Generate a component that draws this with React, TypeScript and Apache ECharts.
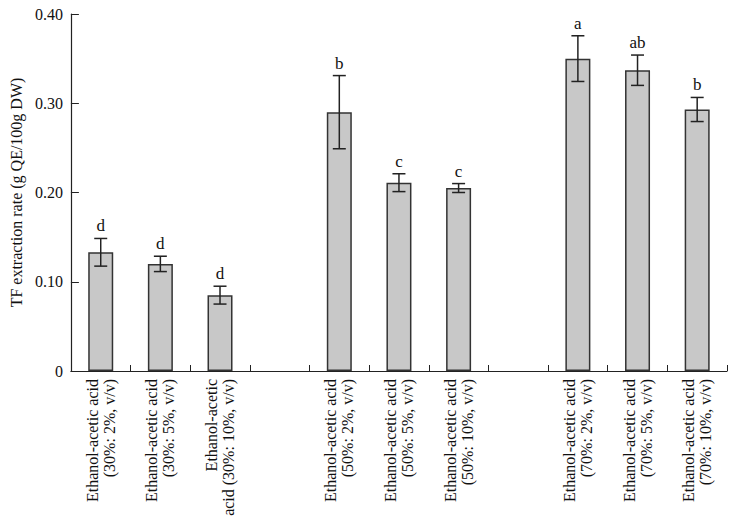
import React, { useEffect, useRef } from "react";
import * as echarts from "echarts";

const categories = [
  "Ethanol-acetic acid\n(30%: 2%, v/v)",
  "Ethanol-acetic acid\n(30%: 5%, v/v)",
  "Ethanol-acetic\nacid (30%: 10%, v/v)",
  "",
  "Ethanol-acetic acid\n(50%: 2%, v/v)",
  "Ethanol-acetic acid\n(50%: 5%, v/v)",
  "Ethanol-acetic acid\n(50%: 10%, v/v)",
  "",
  "Ethanol-acetic acid\n(70%: 2%, v/v)",
  "Ethanol-acetic acid\n(70%: 5%, v/v)",
  "Ethanol-acetic acid\n(70%: 10%, v/v)",
];

const means: (number | null)[] = [0.133, 0.12, 0.085, null, 0.29, 0.211, 0.205, null, 0.35, 0.337, 0.293];
const errors: (number | null)[] = [0.0155, 0.0086, 0.01, null, 0.041, 0.01, 0.005, null, 0.0256, 0.017, 0.0135];
const letters: string[] = ["d", "d", "d", "", "b", "c", "c", "", "a", "ab", "b"];

const yTicks = [0, 0.1, 0.2, 0.3, 0.4];

const FONT = "Liberation Serif";

export default function App() {
  const ref = useRef<HTMLDivElement>(null);
  useEffect(() => {
    if (!ref.current) return;
    const chart = echarts.init(ref.current, null, { renderer: "svg" });
    const errData: any[] = [];
    means.forEach((m, i) => {
      if (m !== null && errors[i] !== null) {
        errData.push([i, m - (errors[i] as number), m + (errors[i] as number), letters[i]]);
      }
    });
    chart.setOption({
      animation: false,
      backgroundColor: "#ffffff",
      grid: { left: 70, right: 10, top: 14, bottom: 154, containLabel: false },
      xAxis: {
        type: "category",
        data: categories,
        axisLine: { lineStyle: { color: "#222", width: 1.2 } },
        axisTick: { show: true, inside: true, length: 6, interval: 0, lineStyle: { color: "#222", width: 1 } },
        axisLabel: {
          interval: 0,
          rotate: 90,
          fontFamily: FONT,
          fontSize: 16,
          color: "#111",
          lineHeight: 17,
          margin: 8,
        },
      },
      yAxis: {
        type: "value",
        min: yTicks[0],
        max: yTicks[yTicks.length - 1],
        interval: 0.1,
        name: "TF extraction rate (g QE/100g DW)",
        nameLocation: "middle",
        nameGap: 43,
        nameTextStyle: { fontFamily: FONT, fontSize: 16, color: "#111" },
        axisLine: { show: true, lineStyle: { color: "#222", width: 1.2 } },
        axisTick: { show: true, inside: true, length: 8, lineStyle: { color: "#222", width: 1 } },
        splitLine: { show: false },
        axisLabel: {
          fontFamily: FONT,
          fontSize: 16,
          color: "#111",
          margin: 8,
          formatter: (v: number) => (v === 0 ? "0" : v.toFixed(2)),
        },
      },
      series: [
        {
          type: "bar",
          data: means.map((m) => (m === null ? "-" : m)),
          barWidth: 25,
          itemStyle: { color: "#c8c8c8", borderColor: "#333", borderWidth: 1.5 },
        },
        {
          type: "custom",
          data: errData,
          z: 10,
          renderItem: (params: any, api: any) => {
            const idx = api.value(0);
            const lo = api.coord([idx, api.value(1)]);
            const hi = api.coord([idx, api.value(2)]);
            const half = 6.5;
            const st = { stroke: "#222", lineWidth: 1.5 };
            const letter = errData[params.dataIndex][3];
            return {
              type: "group",
              children: [
                { type: "line", shape: { x1: hi[0], y1: hi[1], x2: lo[0], y2: lo[1] }, style: st },
                { type: "line", shape: { x1: hi[0] - half, y1: hi[1], x2: hi[0] + half, y2: hi[1] }, style: st },
                { type: "line", shape: { x1: lo[0] - half, y1: lo[1], x2: lo[0] + half, y2: lo[1] }, style: st },
                {
                  type: "text",
                  x: hi[0],
                  y: hi[1] - 4,
                  style: {
                    text: letter,
                    fill: "#111",
                    font: `17px "${FONT}"`,
                    align: "center",
                    verticalAlign: "bottom",
                  },
                },
              ],
            };
          },
        },
      ],
    });
    return () => chart.dispose();
  }, []);
  return <div ref={ref} style={{ width: 737, height: 525, margin: -8 }} />;
}
